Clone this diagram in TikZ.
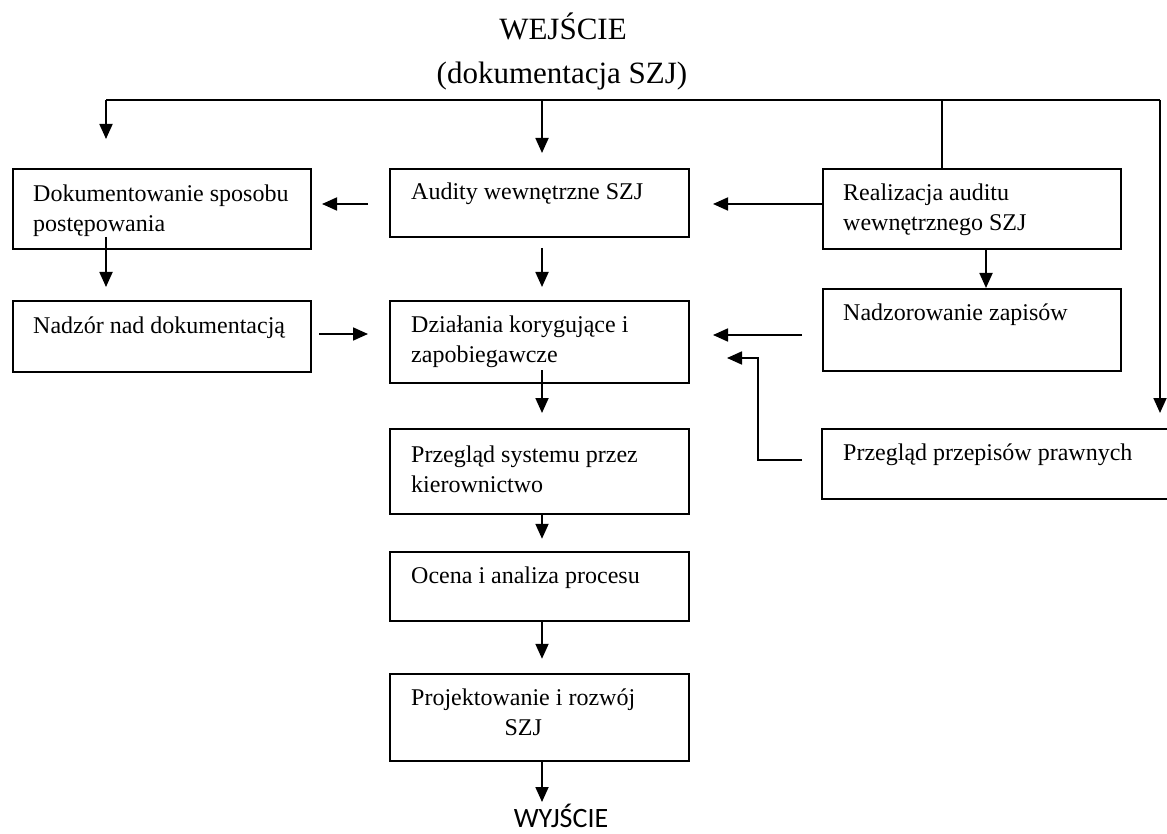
\documentclass[tikz,border=0pt]{standalone}
\usepackage{fontspec}
\setmainfont{Liberation Serif}
\newfontfamily\calfont{Carlito}
\usetikzlibrary{arrows.meta}
\begin{document}
\begin{tikzpicture}[x=1pt,y=-1pt,
  box/.style={draw, line width=1.8pt, inner sep=0pt, anchor=north west},
  txt/.style={anchor=base west, align=left, inner sep=0pt, font=\fontsize{24}{30}\selectfont},
  ttl/.style={anchor=base, inner sep=0pt, font=\fontsize{31}{36}\selectfont},
  ln/.style={line width=1.8pt},
  arr/.style={line width=1.8pt, -{Triangle[width=13pt,length=15pt]}}]
\useasboundingbox (0,0) rectangle (1167,834);

% titles
\node[ttl] (tin1) at (563,40) {WEJŚCIE};
\node[ttl] (tin2) at (562,84) {(dokumentacja SZJ)};
\node[anchor=base, inner sep=0pt, font=\calfont\fontsize{28}{30}\selectfont] (tout) at (561,827) {WYJŚCIE};

% boxes
\node[box, minimum width=298pt, minimum height=80pt] (dok) at (12,168) {};
\node[box, minimum width=299pt, minimum height=68pt] (aud) at (389,168) {};
\node[box, minimum width=298pt, minimum height=80pt] (real) at (822,168) {};
\node[box, minimum width=298pt, minimum height=71pt] (nadz) at (12,300) {};
\node[box, minimum width=299pt, minimum height=82pt] (dzial) at (389,300) {};
\node[box, minimum width=298pt, minimum height=82pt] (nzap) at (822,288) {};
\node[box, minimum width=360pt, minimum height=70pt] (praw) at (821,428) {};
\node[box, minimum width=299pt, minimum height=85pt] (psys) at (389,428) {};
\node[box, minimum width=299pt, minimum height=69pt] (ocena) at (389,551) {};
\node[box, minimum width=299pt, minimum height=87pt] (proj) at (389,673) {};

% texts (for two-line texts the base is the last line)
\node[txt] (dokT) at (33,232) {Dokumentowanie sposobu\\postępowania};
\node[txt] (audT) at (411,200) {Audity wewnętrzne SZJ};
\node[txt] (realT) at (843,231) {Realizacja auditu\\wewnętrznego SZJ};
\node[txt] (nadzT) at (33,333) {Nadzór nad dokumentacją};
\node[txt] (dzialT) at (411,362) {Działania korygujące i\\zapobiegawcze};
\node[txt] (nzapT) at (843,320) {Nadzorowanie zapisów};
\node[txt] (prawT) at (843,460) {Przegląd przepisów prawnych};
\node[txt] (psysT) at (411,492) {Przegląd systemu przez\\kierownictwo};
\node[txt] (ocenaT) at (411,583) {Ocena i analiza procesu};
\node[txt, align=center] (projT) at (411,735) {Projektowanie i rozwój\\SZJ};

% coordinates for connectors
\coordinate (tl) at (106,100);
\coordinate (tc) at (542,100);
\coordinate (tr2) at (942,100);
\coordinate (tr) at (1160,100);
\coordinate (dokIn) at (106,139);
\coordinate (audIn) at (542,153);
\coordinate (prawIn) at (1160,413);
\coordinate (a2d0) at (368,204);
\coordinate (a2d1) at (322,204);
\coordinate (r2a) at (713,204);
\coordinate (xr) at (986,250);
\coordinate (d2n0) at (106,237);
\coordinate (d2n1) at (106,287);
\coordinate (a2z0) at (542,248);
\coordinate (a2z1) at (542,287);
\coordinate (n2z0) at (319,334);
\coordinate (n2z1) at (368,334);
\coordinate (z2z0) at (802,335);
\coordinate (z2z1) at (713,335);
\coordinate (p2z0) at (802,460);
\coordinate (p2zc) at (758,358);
\coordinate (p2z1) at (727,358);
\coordinate (z2s0) at (542,370);
\coordinate (z2s1) at (542,413);
\coordinate (cx) at (542,0);
\coordinate (outIn) at (542,802);

% connectors
\draw[ln] (tl) -- (tr);
\draw[arr] (tl) -- (dokIn);
\draw[arr] (tc) -- (audIn);
\draw[ln] (tr2) -- (tr2 |- real.north);
\draw[arr] (tr) -- (prawIn);
\draw[arr] (a2d0) -- (a2d1);
\draw[arr] (r2a -| real.west) -- (r2a);
\draw[arr] (xr |- real.south) -- (xr |- nzap.north);
\draw[arr] (d2n0) -- (d2n1);
\draw[arr] (a2z0) -- (a2z1);
\draw[arr] (n2z0) -- (n2z1);
\draw[arr] (z2z0) -- (z2z1);
\draw[arr] (p2z0) -| (p2zc) -- (p2z1);
\draw[arr] (z2s0) -- (z2s1);
\draw[arr] (cx |- psys.south) -- ([yshift=-24pt]cx |- psys.south);
\draw[arr] (cx |- ocena.south) -- ([yshift=-37pt]cx |- ocena.south);
\draw[arr] (cx |- proj.south) -- (outIn);
\end{tikzpicture}
\end{document}
